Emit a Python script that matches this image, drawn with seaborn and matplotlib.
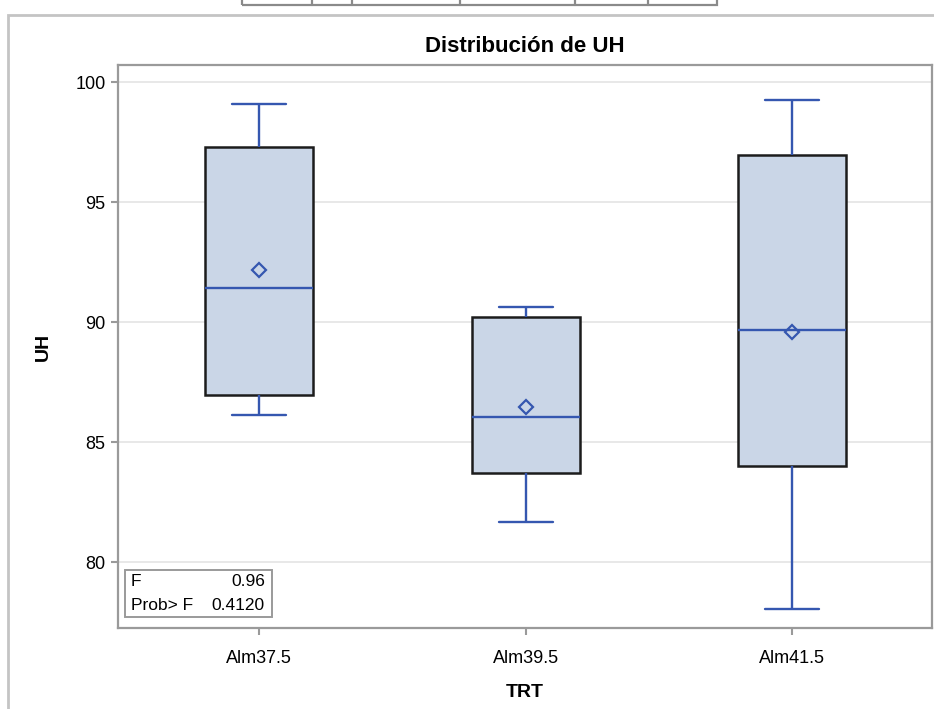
import matplotlib
matplotlib.use("Agg")
import matplotlib.pyplot as plt
from matplotlib.patches import Rectangle
from matplotlib.lines import Line2D
import seaborn as sns
import pandas as pd

# Five-number summaries per treatment (whisker ends, quartiles, median) and means
categories = ["Alm37.5", "Alm39.5", "Alm41.5"]
whisker_low = [86.13, 81.67, 78.04]
q1 = [86.96, 83.71, 84.00]
median = [91.42, 86.04, 89.67]
q3 = [97.29, 90.21, 96.96]
whisker_high = [99.08, 90.63, 99.25]
means = [92.17, 86.46, 89.58]
yticks = [80, 85, 90, 95, 100]
f_value = "0.96"
p_value = "0.4120"

rows = []
for i, c in enumerate(categories):
    for v in (whisker_low[i], q1[i], median[i], q3[i], whisker_high[i]):
        rows.append({"TRT": c, "UH": v})
df = pd.DataFrame(rows)

sns.set_theme(style="white")
plt.rcParams["font.family"] = ["Liberation Sans", "DejaVu Sans"]
plt.rcParams["text.color"] = "black"
plt.rcParams["axes.labelcolor"] = "black"
plt.rcParams["xtick.color"] = "black"
plt.rcParams["ytick.color"] = "black"

BLUE = "#3557b0"
FILL = "#cad6e7"
EDGE = "#1c1c1c"
FRAME = "#9a9a9a"

fig = plt.figure(figsize=(9.34, 7.09), dpi=100)
fig.patch.set_facecolor("white")
ax = fig.add_axes([118 / 934, 1 - 628 / 709, (932 - 118) / 934, (628 - 65) / 709])

sns.boxplot(data=df, x="TRT", y="UH", order=categories, ax=ax, width=0.405,
            color=FILL, linecolor=BLUE, linewidth=1.7, whis=1.5, showfliers=False)
for p in ax.patches:
    p.set_edgecolor(EDGE)
    p.set_linewidth(1.8)
    p.set_facecolor(FILL)
    p.set_zorder(2)
for ln in ax.lines:
    ln.set_zorder(3)

ax.plot(range(len(categories)), means, ls="none", marker="D", ms=7,
        mfc="none", mec=BLUE, mew=1.6, zorder=4)

ax.set_xlim(-0.53, 2.525)
ax.set_ylim(77.25, 100.71)
ax.set_yticks(yticks)
ax.set_yticklabels([str(t) for t in yticks])
ax.yaxis.grid(True, color="#e4e4e4", lw=1.2)
ax.xaxis.grid(False)
ax.set_axisbelow(True)
for s in ax.spines.values():
    s.set_color(FRAME)
    s.set_linewidth(1.6)
ax.tick_params(axis="both", which="both", length=5, width=1.5, color=FRAME,
               labelsize=13, direction="out", left=True, bottom=True)
ax.tick_params(axis="y", pad=4)
ax.tick_params(axis="x", pad=11)
ax.set_xlabel("TRT", fontsize=14, fontweight="bold", labelpad=12)
ax.set_ylabel("UH", fontsize=14, fontweight="bold", labelpad=17)
ax.set_title("Distribución de UH", fontsize=16, fontweight="bold", pad=9)

# statistics inset
ins = Rectangle((125 / 934, 1 - 617 / 709), 147 / 934, 47 / 709,
                transform=fig.transFigure, fill=False, ec=FRAME, lw=1.4)
fig.add_artist(ins)
fig.text(131 / 934, 1 - 582 / 709, "F", fontsize=12.5, va="center", ha="left")
fig.text(265 / 934, 1 - 582 / 709, f_value, fontsize=12.5, va="center", ha="right")
fig.text(131 / 934, 1 - 605 / 709, "Prob> F", fontsize=12.5, va="center", ha="left")
fig.text(265 / 934, 1 - 605 / 709, p_value, fontsize=12.5, va="center", ha="right")

# surrounding graph frame
fig.add_artist(Rectangle((8 / 934, -0.2), 1.2, 1.2 - 15 / 709,
                         transform=fig.transFigure, fill=False, ec="#c4c4c4", lw=2))

# table edge above the graph
tx = [242, 312, 352, 460, 575, 648, 717]
fig.add_artist(Rectangle((tx[0] / 934, 1 - 5 / 709), (tx[-1] - tx[0]) / 934, 0.05,
                         transform=fig.transFigure, fill=False, ec="#8a8a8a", lw=1.6))
for x in tx[1:-1]:
    fig.add_artist(Line2D([x / 934, x / 934], [1 - 5 / 709, 1.0],
                          transform=fig.transFigure, color="#8a8a8a", lw=1.6))

fig.savefig("out.png", dpi=100, facecolor="white")
